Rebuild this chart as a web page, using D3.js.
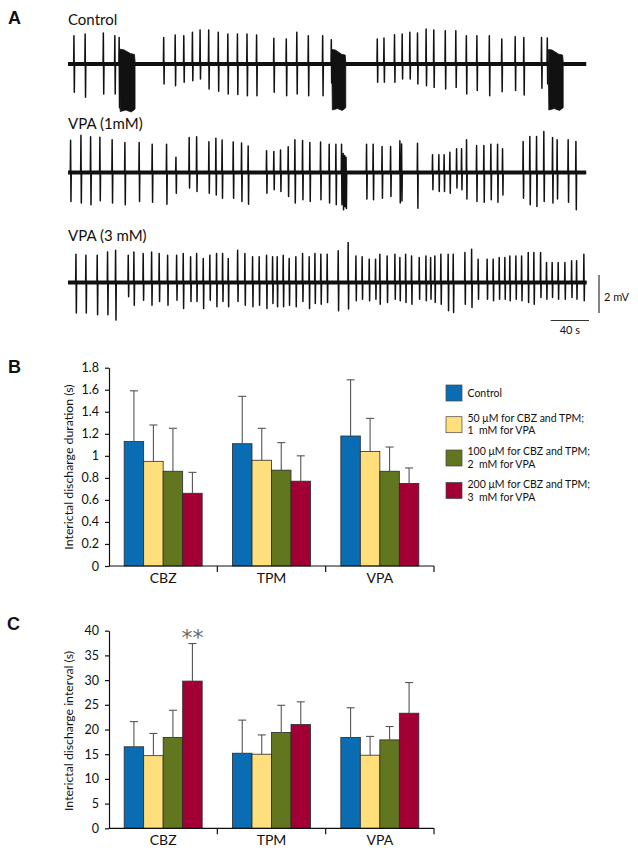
<!DOCTYPE html>
<html><head><meta charset="utf-8">
<script src="https://cdn.jsdelivr.net/npm/d3@7"></script>
<style>
body{margin:0;background:#fff;}
svg{display:block;font-family:Lato,"Open Sans",sans-serif;}
</style></head><body>
<svg id="fig" width="638" height="854"></svg>
<script>
// ---------- Panel A : field-potential traces (time in s, amplitude in mV) ----------
const ctrlTimes=[6.3,18,37,49,53.5,100,112,121,130,138,147,157,167,177,187,197,215,228,239,251,266,275,323,330,341,349,357,365,374,382,394,405,416,427,440,453,467,476,494.5,500.5];
const ctrlUp=[1.49,1.58,1.63,1.49,1.4,1.40,1.53,1.49,1.67,1.79,1.79,1.67,1.58,1.58,1.58,1.53,1.35,1.32,1.67,1.49,1.49,1.28,1.32,1.37,1.54,1.58,1.67,1.63,1.84,1.79,1.75,1.75,1.49,1.49,1.49,1.32,1.44,1.40,1.40,1.37];
const ctrlDown=[1.49,1.75,1.58,1.58,2.3,1.05,1.14,0.96,0.88,0.79,1.32,1.44,1.58,1.61,1.67,1.67,1.49,1.67,1.58,1.67,1.67,1.0,0.96,0.96,0.96,0.79,0.79,1.05,1.14,1.23,1.32,1.23,1.58,1.40,1.67,1.46,1.40,1.63,1.28,1.05];
const ctrlBurstStart=[54,275.5,501.5];
const ctrlBurstEnd=[70,290,517];
const ctrlBurstTop=[0.78,0.76,0.76];
const ctrlBurstTopEnd=[0.5,0.47,0.47];
const ctrlBurstBottom=[2.5,2.42,2.42];
const ctrlEnd=541;

const vpa1Times=[2.8,13.6,23.7,33.4,46.2,59.5,74.4,88,103,112.8,126.6,134.4,147.2,154.5,161,172.6,181.3,188.2,207.4,215,222,230,237,245,252.6,263.8,272.8,279.8,285.7,287.4,289,290.4,311.8,318.7,328,336.9,346.6,348.4,365,380.7,387.3,392.8,398.8,405.8,411,416.2,426.7,434.3,441.6,448.6,453.8,475.3,482.3,489.3,496.9,506,510.8,522.3,530.4];
const vpa1Up=[1.7,1.96,1.88,1.86,1.72,1.58,1.58,1.49,1.49,0.8,1.84,1.88,1.62,1.8,1.71,1.6,1.55,1.4,1.14,1.1,1.18,1.36,1.72,1.68,1.58,1.6,1.49,1.49,1.49,1.0,0.9,0.8,1.49,1.49,1.37,1.37,1.67,1.5,1.54,0.93,0.93,0.93,1.07,1.25,1.25,1.72,1.42,1.42,1.49,1.49,1.25,1.63,1.89,1.89,2.16,1.84,1.72,1.72,1.63];
const vpa1Down=[1.53,1.61,1.7,1.49,1.61,1.7,1.53,1.56,1.67,1.09,0.82,1.0,1.09,1.18,1.35,1.35,1.53,1.67,1.09,0.91,1.0,1.26,1.61,1.44,1.53,1.44,1.61,1.7,1.7,1.96,1.8,1.9,1.39,1.44,1.35,1.26,1.61,1.5,1.88,0.91,1.0,1.0,1.09,0.82,0.91,1.39,1.53,1.56,1.44,1.56,1.18,1.35,1.7,1.79,1.53,1.61,1.39,1.56,1.96];
const vpa1End=541;

const vpa3Times=[8.4,18.8,30.6,41.4,49.8,63,68.9,78.6,87.4,95.3,104.1,113.5,120.4,128.1,134.4,141.3,148.2,155.2,161.5,167.4,177.2,184.8,192.8,199.7,207.4,213.7,218.5,224.8,231,238,245,251.9,257.9,264.1,270.7,282.2,292.6,300.7,307.2,314.6,321.2,325.7,333.3,341.4,346.6,352.6,358.8,366.8,373.8,378.7,383.1,389.4,397,402.3,414.5,421.5,428.3,437.7,444,450.3,456.2,461.4,467.7,473.7,480.6,486.5,493.5,499.7,505.6,511.9,518.9,525.9,531.1,538.7];
const vpa3Up=[1.49,1.44,1.44,1.6,1.7,1.44,1.6,1.53,1.6,1.53,1.44,1.44,1.53,1.35,1.53,1.26,1.44,1.53,1.53,1.26,1.7,1.53,1.35,1.35,1.44,1.35,1.35,1.44,1.26,1.35,1.53,1.35,1.53,1.49,1.49,1.67,2.1,1.4,1.35,1.23,1.23,1.49,1.4,1.49,1.32,1.49,1.4,1.32,1.4,1.32,1.4,1.49,1.49,1.49,1.58,1.75,1.23,1.23,1.23,1.32,1.32,1.4,1.4,1.4,1.58,1.58,1.58,1.05,1.05,1.05,1.05,1.14,1.14,1.49];
const vpa3Down=[1.6,1.6,1.7,1.7,1.98,0.75,1.2,0.93,1.2,1.0,1.2,0.93,1.37,1.0,1.0,1.37,0.93,1.28,1.0,1.28,1.0,1.2,1.28,1.2,1.37,1.1,1.28,1.28,1.2,1.28,1.0,1.37,1.1,1.14,1.05,1.49,1.4,0.96,0.88,0.96,0.88,1.14,1.05,0.88,0.96,1.05,1.14,0.88,0.96,0.88,1.05,1.14,1.49,1.58,1.14,1.32,0.88,0.88,0.96,0.88,0.88,0.96,0.88,0.96,1.05,1.14,0.79,0.88,0.79,0.88,0.88,0.79,0.88,0.96];
const vpa3End=541.5;

const traceLabels=["Control","VPA (1mM)","VPA (3 mM)"];
const scaleBarMv=2, scaleBarSec=40;

// ---------- Panels B and C : bar charts ----------
const categories=["CBZ","TPM","VPA"];
const legendLine1=["Control","50 \u03bcM for CBZ and TPM;","100 \u03bcM for CBZ and TPM;","200 \u03bcM for CBZ and TPM;"];
const legendLine2=["","1  mM for VPA","2  mM for VPA","3  mM for VPA"];
const seriesColors=["#0a6db4","#fedf7c","#62761f","#a20035"];

const durControl=[1.13,1.11,1.18], durLow=[0.95,0.96,1.04], durMid=[0.86,0.87,0.86], durHigh=[0.66,0.77,0.75];
const durControlSD=[0.46,0.43,0.51], durLowSD=[0.33,0.29,0.30], durMidSD=[0.39,0.25,0.22], durHighSD=[0.19,0.23,0.14];
const durTicks=[0,0.2,0.4,0.6,0.8,1,1.2,1.4,1.6,1.8];
const durTickLabels=["0","0.2","0.4","0.6","0.8","1","1.2","1.4","1.6","1.8"];

const intControl=[16.5,15.2,18.4], intLow=[14.7,15.0,14.8], intMid=[18.4,19.4,17.9], intHigh=[29.8,21.0,23.3];
const intControlSD=[5.1,6.7,6.0], intLowSD=[4.5,3.9,3.8], intMidSD=[5.5,5.5,2.7], intHighSD=[7.6,4.6,6.2];
const intTicks=[0,5,10,15,20,25,30,35,40];
const intTickLabels=["0","5","10","15","20","25","30","35","40"];
const intSignificance=[["CBZ",3,"**"]];

// ================= drawing =================
const svg=d3.select("#fig");
svg.append("rect").attr("width",638).attr("height",854).attr("fill","#fff");

function panelLetter(t,x,y){
  svg.append("text").attr("x",x).attr("y",y).text(t)
    .attr("font-family","Liberation Sans, Arial, sans-serif").attr("font-weight","bold").attr("font-size",18).attr("fill","#111");
}
panelLetter("A",8,24); panelLetter("B",8,373); panelLetter("C",7,630);

const tx=d3.scaleLinear().domain([0,545]).range([68,590]);
const traceDefs=[
  {base:64,labelY:25,times:ctrlTimes,up:ctrlUp,down:ctrlDown,end:ctrlEnd,
   bursts:ctrlBurstStart.map((s,i)=>({s,e:ctrlBurstEnd[i],top:ctrlBurstTop[i],topEnd:ctrlBurstTopEnd[i],bottom:ctrlBurstBottom[i]}))},
  {base:172.5,labelY:128.5,times:vpa1Times,up:vpa1Up,down:vpa1Down,end:vpa1End,bursts:[]},
  {base:282.5,labelY:241,times:vpa3Times,up:vpa3Up,down:vpa3Down,end:vpa3End,bursts:[]}
];
let lastY=null;
traceDefs.forEach((tr,k)=>{
  const y=d3.scaleLinear().domain([-2,2]).range([tr.base+38,tr.base-38]);
  lastY=y;
  const g=svg.append("g");
  g.append("text").attr("x",68).attr("y",tr.labelY).text(traceLabels[k])
    .attr("font-size",15).attr("fill","#111");
  g.append("line").attr("x1",tx(0)).attr("x2",tx(tr.end)).attr("y1",y(0)).attr("y2",y(0))
    .attr("stroke","#111").attr("stroke-width",3.8);
  const pts=[[0,0]];
  tr.times.forEach((t,i)=>{pts.push([t-0.4,0],[t-0.1,tr.up[i]],[t+0.3,-tr.down[i]],[t+0.6,0]);});
  pts.push([tr.end,0]);
  const line=d3.line().x(d=>tx(d[0])).y(d=>y(d[1]));
  g.append("path").attr("d",line(pts)).attr("fill","none").attr("stroke","#111")
    .attr("stroke-width",1.5).attr("stroke-linejoin","round");
  tr.bursts.forEach(b=>{
    const w=b.e-b.s;
    const poly=[[b.s,0],[b.s,b.top],[b.s+0.25*w,b.top*0.97],[b.s+0.7*w,b.topEnd*1.1],[b.e-0.6,b.topEnd],[b.e,0.15],
      [b.e,-b.bottom*0.95],[b.s+0.75*w,-b.bottom*1.01],[b.s+0.4*w,-b.bottom*0.97],[b.s+0.5,-b.bottom],[b.s,-0.3]];
    g.append("path").attr("d",d3.line().x(d=>tx(d[0])).y(d=>y(d[1]))(poly)+"Z").attr("fill","#111").attr("stroke","#111").attr("stroke-width",0.8);
  });
});
// scale bars
{
  const barBottom=313, vx=599;
  const pxMv=lastY(0)-lastY(scaleBarMv);
  svg.append("line").attr("x1",vx).attr("x2",vx).attr("y1",barBottom).attr("y2",barBottom-pxMv).attr("stroke","#333").attr("stroke-width",1.2);
  svg.append("text").attr("x",604).attr("y",301).text(scaleBarMv+" mV").attr("font-size",11).attr("fill","#111");
  const hx2=589, hy=320.5, pxS=tx(scaleBarSec)-tx(0);
  svg.append("line").attr("x1",hx2-pxS).attr("x2",hx2).attr("y1",hy).attr("y2",hy).attr("stroke","#333").attr("stroke-width",1.2);
  svg.append("text").attr("x",hx2-pxS/2).attr("y",334).attr("text-anchor","middle").text(scaleBarSec+" s").attr("font-size",11).attr("fill","#111");
}

function barPanel(cfg){
  const g=svg.append("g");
  const y=d3.scaleLinear().domain([0,cfg.max]).range([cfg.bottom,cfg.top]);
  const x=d3.scaleBand().domain(categories).range([109,434]);
  const inner=d3.scaleBand().domain(d3.range(4)).range([0,x.bandwidth()*0.72]);
  const off=x.bandwidth()*0.14;
  const series=cfg.series, sds=cfg.sds;
  categories.forEach((c,ci)=>{
    series.forEach((s,si)=>{
      const bx=x(c)+off+inner(si), bw=inner.bandwidth();
      g.append("rect").attr("x",bx).attr("y",y(s[ci])).attr("width",bw).attr("height",y(0)-y(s[ci]))
        .attr("fill",seriesColors[si]).attr("stroke","#2a2a2a").attr("stroke-width",0.8);
      const cx=bx+bw/2, yt=y(s[ci]+sds[si][ci]);
      g.append("line").attr("x1",cx).attr("x2",cx).attr("y1",y(s[ci])).attr("y2",yt).attr("stroke","#555").attr("stroke-width",1.1);
      g.append("line").attr("x1",cx-4).attr("x2",cx+4).attr("y1",yt).attr("y2",yt).attr("stroke","#555").attr("stroke-width",1.1);
    });
  });
  const ya=g.append("g").attr("transform","translate(109,0)")
    .call(d3.axisLeft(y).tickValues(cfg.ticks).tickFormat((d,i)=>cfg.tickLabels[i]).tickSize(4).tickSizeOuter(0).tickPadding(6));
  ya.selectAll("path,line").attr("stroke","#111").attr("stroke-width",1.2);
  ya.selectAll("text").attr("font-family","Lato, sans-serif").attr("font-size",12.5).attr("fill","#111");
  g.append("line").attr("x1",109).attr("x2",434).attr("y1",y(0)).attr("y2",y(0)).attr("stroke","#111").attr("stroke-width",1.2);
  categories.forEach(c=>{
    const xe=x(c)+x.bandwidth();
    g.append("line").attr("x1",xe).attr("x2",xe).attr("y1",y(0)).attr("y2",y(0)+6).attr("stroke","#111").attr("stroke-width",1.2);
    g.append("text").attr("x",x(c)+x.bandwidth()/2).attr("y",cfg.catY).attr("text-anchor","middle").text(c)
      .attr("font-size",14).attr("fill","#111");
  });
  g.append("text").attr("transform",`translate(73,${cfg.labelMid}) rotate(-90)`).attr("text-anchor","middle")
    .text(cfg.yLabel).attr("font-size",12.3).attr("fill","#111");
  (cfg.signif||[]).forEach(([c,si,txt])=>{
    const ci=categories.indexOf(c);
    const cx=x(c)+off+inner(si)+inner.bandwidth()/2;
    g.append("text").attr("x",cx).attr("y",y(series[si][ci]+sds[si][ci])+1).attr("text-anchor","middle")
      .text(txt).attr("font-family","DejaVu Sans, sans-serif").attr("font-size",22).attr("fill","#6a6a6a");
  });
}
barPanel({top:367.7,bottom:566,max:1.8,ticks:durTicks,tickLabels:durTickLabels,
  series:[durControl,durLow,durMid,durHigh],sds:[durControlSD,durLowSD,durMidSD,durHighSD],
  catY:583,labelMid:467,yLabel:"Interictal discharge duration (s)"});
barPanel({top:630.7,bottom:828.3,max:40,ticks:intTicks,tickLabels:intTickLabels,
  series:[intControl,intLow,intMid,intHigh],sds:[intControlSD,intLowSD,intMidSD,intHighSD],
  catY:845,labelMid:731,yLabel:"Interictal discharge interval (s)",signif:intSignificance});

// legend
{
  const sw=[385,416.7,450,482.5];
  const b1=[397,421.5,455,488];
  const g=svg.append("g");
  legendLine1.forEach((t,i)=>{
    g.append("rect").attr("x",446).attr("y",sw[i]).attr("width",16).attr("height",16)
      .attr("fill",seriesColors[i]).attr("stroke","#444").attr("stroke-width",0.7);
    g.append("text").attr("x",467.5).attr("y",b1[i]).text(t).attr("font-size",10.5).attr("fill","#111");
    if(legendLine2[i]) g.append("text").attr("x",467.5).attr("y",b1[i]+12.5).text(legendLine2[i])
      .attr("font-size",10.5).attr("fill","#111").style("white-space","pre");
  });
}
</script>
</body></html>
